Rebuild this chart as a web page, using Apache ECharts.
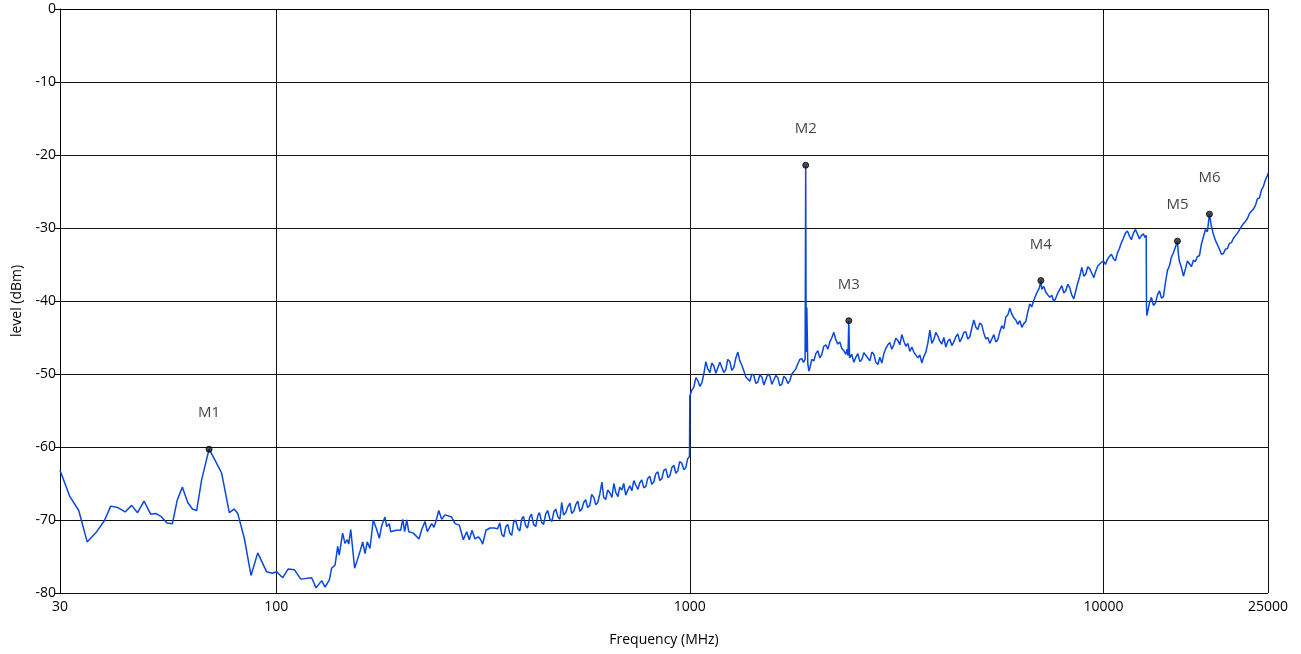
<!DOCTYPE html>
<html>
<head>
<meta charset="utf-8">
<script src="https://cdn.jsdelivr.net/npm/echarts@6/dist/echarts.min.js"></script>
<style>
html,body{margin:0;padding:0;background:#fff;}
#chart{width:1301px;height:654px;}
</style>
</head>
<body>
<div id="chart"></div>
<script>
// Frequency (MHz), level (dBm) pairs
const trace30to345 = [
[30,-63.2],[31.7,-66.8],[33.3,-68.7],[34.9,-73.0],[36.8,-71.6],[38.4,-70.1],[39.8,-68.1],[41.4,-68.3],[43.1,-68.9],[44.7,-68.0],[46.2,-69.0],[47.9,-67.4],[49.7,-69.2],[51.1,-69.1],[52.6,-69.5],[54.4,-70.4],[56.1,-70.5],[57.6,-67.3],[59.3,-65.5],[61.1,-67.6],[62.7,-68.5],[64.2,-68.7],[66.0,-64.5],[68.8,-60.3],[71.1,-61.8],[73.8,-63.6],[77.0,-69.0],[79.1,-68.5],[80.7,-69.1],[83.7,-72.5],[86.9,-77.6],[90.2,-74.5],[94.8,-77.1],[97.8,-77.3],[100.2,-77.1],[103.7,-77.9],[106.9,-76.7],[110.6,-76.8],
[114.6,-78.1],[121.8,-77.9],[124.8,-79.3],[128.8,-78.3],[131.2,-79.2],[134.4,-78.2],[136.1,-76.6],[138.7,-76.2],[140.8,-73.6],[142.0,-74.8],[144.7,-71.8],[146.6,-73.2],[148.5,-72.7],[149.7,-73.3],[151.4,-71.3],[154.7,-76.6],[157.0,-75.5],[160.0,-74.0],[161.8,-73.0],[163.9,-74.6],[166.0,-73.0],[168.5,-73.9],[171.6,-70.0],[174.9,-71.3],[177.5,-72.5],[179.8,-70.8],[183.2,-69.6],[184.9,-70.9],[187.6,-70.5],[189.1,-71.6],[194.8,-71.4],[199.9,-71.4],[202.2,-69.9],[204.4,-71.6],[206.8,-70.0],[209.1,-71.6],[214.5,-71.8],[221.4,-72.6],[224.8,-71.3],[228.9,-70.2],[231.9,-71.6],[237.6,-70.5],[240.7,-71.0],[244.3,-69.8],[247.1,-68.7],[251.2,-69.9],[255.9,-69.3],[265.6,-69.6],[270.5,-70.5],[277.1,-70.7],[283.3,-72.7],[288.7,-71.6],[292.9,-72.7],[297.4,-71.4],[302.4,-72.6],[308.0,-72.3],[312.1,-72.7],[315.6,-73.3],[321.4,-71.4],[328.7,-71.1],[336.1,-71.1]
];
const trace345to1000 = [
[343,-71.2],[347,-70.4],[351,-72.0],[355,-72.3],[359,-70.9],[363,-70.6],[367,-71.8],[371,-72.1],[375,-70.3],[379,-70.0],[384,-71.2],[388,-71.5],[392,-69.9],[396,-69.5],[401,-70.8],[405,-71.1],[410,-69.6],[414,-69.2],[419,-70.6],[424,-70.9],[429,-69.4],[433,-69.0],[438,-70.3],[443,-70.6],[448,-69.2],[453,-68.7],[459,-69.9],[464,-70.2],[469,-68.9],[474,-68.5],[480,-69.6],[485,-69.9],[490,-67.6],[495,-69.3],[501,-69.0],[507,-68.2],[513,-67.7],[518,-69.1],[524,-68.8],[530,-67.9],[536,-67.4],[542,-68.8],[548,-68.5],[554,-67.6],[560,-67.2],[566,-68.3],[573,-68.0],[579,-66.5],[586,-66.9],[592,-67.9],[599,-67.6],[606,-66.4],[613,-64.8],[619,-66.9],[626,-67.2],[633,-65.9],[641,-66.3],[648,-66.9],[655,-65.0],[662,-66.2],[670,-66.8],[677,-65.5],[685,-65.9],[692,-65.0],[700,-66.6],[708,-65.9],[716,-65.3],[724,-66.0],[732,-64.6],[740,-65.2],[749,-65.8],[757,-64.9],[765,-64.5],[774,-65.6],[783,-65.4],[791,-64.3],[800,-64.0],[809,-65.1],[818,-64.8],[827,-63.7],[837,-63.4],[846,-64.6],[856,-64.3],[865,-63.2],[875,-63.0],[885,-64.2],[895,-63.9],[905,-62.8],[915,-62.5],[925,-63.6],[935,-63.3],[945,-62.0],[956,-62.2],[967,-63.1],[978,-62.8],[988,-61.6],[998,-61.3]
];
const trace1000to12700 = [
[1000,-53.0],[1011,-52.2],[1022.5,-51.8],[1034,-50.5],[1045.6,-50.9],[1057,-51.7],[1069.1,-51.2],[1081,-50.0],[1093.2,-48.3],[1105,-49.3],[1117.8,-49.8],[1130,-48.5],[1143,-48.9],[1156,-49.9],[1168.7,-49.7],[1182,-48.4],[1195,-48.6],[1208,-49.8],[1222,-49.4],[1235,-48.0],[1249.5,-48.3],[1263,-49.5],[1277.6,-49.1],[1292,-47.8],[1306.4,-47.0],[1321,-48.2],[1335.8,-48.8],[1351,-49.6],[1365.9,-50.4],[1381,-50.7],[1396.7,-51.0],[1412,-50.0],[1428.1,-50.2],[1444,-51.3],[1460.3,-51.1],[1477,-50.1],[1493.2,-50.4],[1510,-51.5],[1526.8,-51.3],[1544,-50.0],[1561.2,-50.3],[1579,-51.4],[1596.4,-51.2],[1614,-50.2],[1632.3,-50.5],[1650,-51.6],[1669.1,-51.4],[1688,-50.3],[1706.7,-50.6],[1726,-51.3],[1745.1,-50.9],[1765,-50.0],[1784.4,-49.8],[1804,-49.3],[1824.6,-48.6],[1845,-48.0],[1865.7,-47.9],[1883,-48.4],[1900,-48.0],[1906,-21.4],[1911,-47.0],[1918,-40.9],[1928,-48.5],[1940,-49.6],[1950.7,-49.2],[1972,-48.0],[1994.6,-48.2],[2017,-47.2],[2039.6,-46.8],[2062,-47.8],[2085.4,-47.3],[2108,-46.2],[2132.4,-46.0],[2156,-46.6],[2180.4,-45.6],[2205,-45.0],[2229.6,-44.3],[2254,-45.3],[2279.7,-45.9],[2305,-45.6],[2331.1,-46.5],[2357,-46.8],[2383.6,-47.3],[2400,-46.6],[2412,-47.5],[2423,-42.7],[2434,-47.8],[2463,-47.3],[2492.1,-48.4],[2520,-47.7],[2548.2,-47.2],[2577,-48.3],[2605.6,-48.0],[2635,-47.1],[2664.3,-46.9],[2694,-47.8],[2724.3,-48.2],[2755,-47.0],[2785.6,-47.3],[2817,-48.4],[2848.3,-48.7],[2880,-47.7],[2912.4,-48.5],[2945,-47.2],[2978,-46.5],[3011,-46.0],[3045,-45.7],[3079,-46.6],[3113.6,-46.0],[3148,-45.1],[3183.7,-45.4],[3219,-46.0],[3255.4,-44.6],[3292,-45.5],[3328.7,-46.2],[3366,-45.8],[3403.6,-46.9],[3442,-46.3],[3480.2,-47.0],[3519,-46.9],[3558.6,-47.8],[3598,-47.4],[3638.7,-48.5],[3679,-47.6],[3720.6,-47.0],[3762,-45.8],[3804.4,-44.0],[3847,-45.8],[3890,-45.3],[3933,-44.3],[3977.6,-44.8],[4022,-45.5],[4067.2,-45.9],[4113,-45.0],[4158.7,-46.3],[4205,-45.5],[4252.4,-45.2],[4300,-46.1],[4348.1,-45.6],[4397,-44.9],[4446,-44.5],[4496,-45.6],[4546.1,-45.1],[4597,-44.3],[4648.5,-44.2],[4700,-45.2],[4753.1,-44.9],[4806,-43.7],[4860.1,-42.6],[4915,-43.6],[4969.5,-43.9],[5025,-43.0],[5081.4,-43.3],[5138,-44.4],[5195.8,-45.2],[5254,-45.0],[5312.8,-45.8],[5372,-45.2],[5432.5,-44.6],[5493,-45.6],[5554.8,-45.3],[5617,-44.2],[5679.8,-43.4],[5743,-43.8],[5807.7,-42.2],[5873,-41.9],[5938.5,-41.0],[6005,-41.8],[6072.2,-42.3],[6140,-42.6],[6208.9,-43.2],[6278,-42.7],[6348.7,-43.6],[6420,-43.1],[6491.7,-42.8],[6564,-41.5],[6637.9,-40.4],[6712,-40.8],[6787.3,-39.9],[6863,-39.2],[6940.1,-38.6],[7000,-38.2],[7059,-37.2],[7096.4,-38.4],[7176,-38.0],[7256.2,-38.8],[7337,-38.9],[7419.6,-39.5],[7503,-39.2],[7586.6,-40.1],[7671,-39.6],[7757.4,-38.9],[7844,-38.4],[7932.1,-37.9],[8021,-38.9],[8110.7,-38.6],[8201,-37.7],[8293.4,-38.2],[8386,-39.2],[8480.1,-39.7],[8575,-38.6],[8671,-37.5],[8768,-36.6],[8866.3,-35.4],[8965,-36.6],[9065.9,-36.3],[9167,-35.3],[9270,-35.6],[9374,-36.2],[9478.8,-36.8],[9585,-35.9],[9692.2,-35.2],[9850,-34.8],[10000,-34.5],[10112,-35.0],[10225,-34.3],[10340,-33.9],[10456,-33.6],[10573,-34.2],[10691,-34.5],[10811,-33.4],[10932,-32.8],[11054,-32.0],[11178,-31.4],[11303,-30.7],[11430,-30.4],[11558,-31.1],[11687,-31.6],[11818,-30.7],[11950,-30.2],[12084,-30.8],[12220,-31.5],[12356,-31.0],[12495,-30.8],[12600,-31.3],[12690,-31.0]
];
const trace12700to25000 = [
[12710,-40.8],[12740,-42.0],[12776,-41.8],[12920,-40.3],[13064,-39.5],[13210,-40.6],[13358,-40.3],[13508,-39.2],[13659,-38.6],[13812,-39.6],[13967,-39.4],[14123,-37.5],[14281,-35.8],[14441,-35.2],[14603,-34.0],[14766,-33.4],[14932,-32.6],[15099,-31.8],[15183,-33.6],[15268,-34.6],[15439,-35.4],[15612,-36.6],[15787,-35.6],[15964,-34.5],[16143,-34.9],[16323,-35.3],[16506,-34.4],[16691,-34.6],[16878,-33.9],[17067,-33.8],[17258,-32.2],[17451,-31.2],[17646,-30.2],[17844,-30.5],[18045,-28.1],[18246,-29.8],[18451,-30.9],[18657,-31.7],[18866,-32.3],[19077,-32.9],[19290,-33.6],[19507,-33.5],[19725,-32.9],[19946,-32.8],[20170,-32.1],[20396,-32.0],[20624,-31.4],[20854,-31.2],[21088,-30.7],[21324,-30.6],[21562,-29.8],[21804,-29.4],[22048,-29.1],[22296,-28.7],[22545,-28.0],[22797,-28.2],[23052,-27.4],[23311,-26.9],[23572,-26.0],[23836,-25.9],[24102,-24.8],[24372,-24.3],[24645,-23.4],[24921,-22.8],[25000,-22.5]
];
const markerNames = ['M1','M2','M3','M4','M5','M6'];
const markerFreq = [68.8, 1906, 2423, 7059, 15099, 18045];
const markerLevel = [-60.3, -21.4, -42.7, -37.2, -31.8, -28.1];
const yTicks = {min: -80, max: 0, step: 10};
const xRange = {min: 30, max: 25000};

const trace = trace30to345.concat(trace345to1000, trace1000to12700, trace12700to25000);
const markers = markerNames.map((n, i) => ({name: n, value: [markerFreq[i], markerLevel[i]]}));

const FONT = '"Open Sans", "Noto Sans", sans-serif';
const chart = echarts.init(document.getElementById('chart'), null, {renderer: 'canvas'});
chart.setOption({
  animation: false,
  backgroundColor: '#fff',
  grid: {left: 60, right: 33, top: 9, bottom: 61, containLabel: false, outerBoundsMode: 'none'},
  xAxis: {
    type: 'log', logBase: 10, min: xRange.min, max: xRange.max,
    name: 'Frequency (MHz)', nameLocation: 'middle', nameGap: 40,
    nameTextStyle: {fontFamily: FONT, fontSize: 14, color: '#000'},
    axisLine: {show: true, lineStyle: {color: '#000', width: 1}},
    axisTick: {show: true, length: 5, lineStyle: {color: '#000'}},
    minorTick: {show: false},
    axisLabel: {fontFamily: FONT, fontSize: 14, color: '#000', margin: 7,
      formatter: v => String(Math.round(v))},
    splitLine: {show: true, lineStyle: {color: '#111', width: 1}}
  },
  yAxis: {
    type: 'value', min: yTicks.min, max: yTicks.max, interval: yTicks.step,
    name: 'level (dBm)', nameLocation: 'middle', nameGap: 36, nameRotate: 90,
    nameTextStyle: {fontFamily: FONT, fontSize: 14, color: '#000'},
    axisLine: {show: true, onZero: false, lineStyle: {color: '#000', width: 1}},
    axisTick: {show: true, length: 5, lineStyle: {color: '#000'}},
    axisLabel: {fontFamily: FONT, fontSize: 14, color: '#000', margin: 4},
    splitLine: {show: true, lineStyle: {color: '#111', width: 1}}
  },
  series: [
    {
      type: 'line', data: trace, showSymbol: false, symbol: 'none',
      lineStyle: {color: '#0a47dc', width: 1.5}, z: 2
    },
    {
      type: 'scatter', data: markers, symbol: 'circle', symbolSize: 6,
      itemStyle: {color: '#222', borderColor: '#000', borderWidth: 1}, z: 3,
      label: {show: true, position: 'top', distance: 25, formatter: p => p.name,
        fontFamily: FONT, fontSize: 15, color: '#111'}
    }
  ]
});
</script>
</body>
</html>
